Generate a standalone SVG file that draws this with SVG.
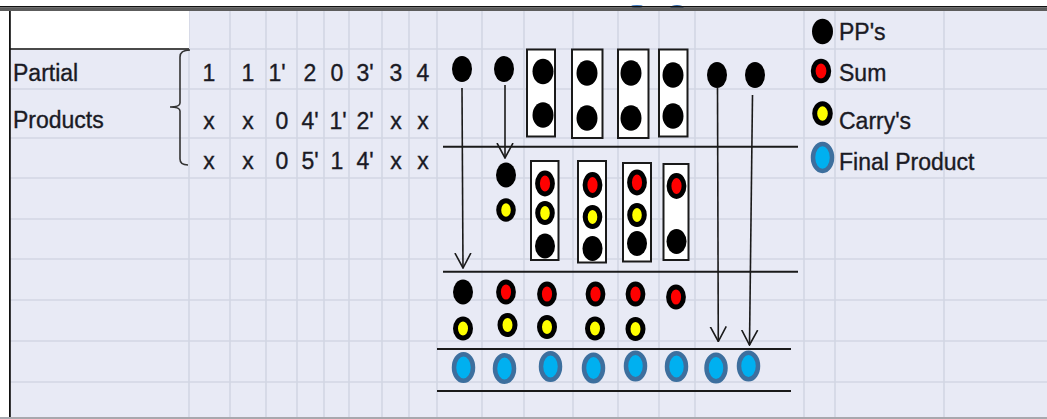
<svg xmlns="http://www.w3.org/2000/svg" width="1047" height="419" viewBox="0 0 1047 419">
  <defs>
    <style>
      .bg { fill: #e8eaf5; }
      .grid { stroke: #d2d6e4; stroke-width: 1.6; fill: none; }
      .txt { font-family: "Liberation Sans", Arial, sans-serif; font-size: 23px; fill: #1a1a24; stroke: #1a1a24; stroke-width: 0.35; }
      .num { text-anchor: middle; }
      .pp { fill: #000; }
      .sum { fill: #ff0000; stroke: #000; stroke-width: 4.8; }
      .carry { fill: #ffff00; stroke: #000; stroke-width: 5; }
      .fin { fill: #00b0f0; stroke: #3d6f9e; stroke-width: 4.5; }
      .box { fill: #fff; stroke: #1a1a1a; stroke-width: 2; }
      .rule { stroke: #1a1a1a; stroke-width: 2; fill: none; }
      .arrow { stroke: #1a1a1a; stroke-width: 1.6; fill: none; marker-end: url(#vhead); }
    </style>
    <marker id="vhead" viewBox="0 0 16 18" refX="15" refY="9" markerWidth="16" markerHeight="18" markerUnits="userSpaceOnUse" orient="auto">
      <path d="M0,1 L15,9 L0,17" fill="none" stroke="#1a1a1a" stroke-width="1.6"/>
    </marker>
  </defs>

  <!-- sheet background -->
  <rect x="0" y="0" width="1047" height="419" fill="#ffffff"/>
  <rect class="bg" x="10" y="11" width="1037" height="407"/>

  <!-- cell grid -->
  <g id="grid" class="grid">
    <path d="M189,11V418 M230,11V418 M266,11V418 M297,11V418 M324,11V418 M349,11V418 M382,11V418 M409,11V418 M437,11V418 M482,11V418 M524,11V418 M573,11V418 M618,11V418 M659,11V418 M695,11V418 M804,11V418 M835,11V418 M944,11V418"/>
    <path d="M189,49H1047 M10,89H1047 M10,138H1047 M10,178H1047 M10,219H1047 M10,259H1047 M10,300H1047 M10,341H1047 M10,382H1047"/>
  </g>

  <!-- title cell -->
  <rect x="10" y="11" width="179" height="38" fill="#ffffff"/>
  <path d="M10,49H189" stroke="#4a4a4a" stroke-width="1.8"/>

  <!-- frame -->
  <ellipse cx="637" cy="6.5" rx="6" ry="1.6" fill="#3a78c0"/>
  <ellipse cx="677" cy="7.5" rx="6.5" ry="2.4" fill="#2f66a8"/>
  <rect x="0" y="6" width="1047" height="1.5" fill="#111"/>
  <rect x="0" y="7.5" width="1047" height="3.5" fill="#5c5c5c"/>
  <rect x="9" y="11" width="1.8" height="407" fill="#111"/>
  <rect x="0" y="417" width="1047" height="2" fill="#a8a8ae"/>

  <!-- row labels -->
  <g id="label-partial-products">
    <text class="txt" x="13" y="81">Partial</text>
    <text class="txt" x="13" y="128">Products</text>
    <path d="M190,50 Q180,50 180,57 L180,103 Q180,107 170,107 Q180,107 180,111 L180,159 Q180,165 188,165" fill="none" stroke="#333" stroke-width="1.6"/>
  </g>

  <!-- partial product digits -->
  <g id="pp-table" class="txt num">
    <text x="209" y="81">1</text>
    <text x="248" y="81">1</text>
    <text x="277" y="81">1'</text>
    <text x="310" y="81">2</text>
    <text x="337" y="81">0</text>
    <text x="365" y="81">3'</text>
    <text x="396" y="81">3</text>
    <text x="423" y="81">4</text>

    <text x="209" y="128.5">x</text>
    <text x="248" y="128.5">x</text>
    <text x="282" y="128.5">0</text>
    <text x="310" y="128.5">4'</text>
    <text x="338" y="128.5">1'</text>
    <text x="365" y="128.5">2'</text>
    <text x="396" y="128.5">x</text>
    <text x="423" y="128.5">x</text>

    <text x="209" y="169">x</text>
    <text x="248" y="169">x</text>
    <text x="282" y="169">0</text>
    <text x="310" y="169">5'</text>
    <text x="337" y="169">1</text>
    <text x="365" y="169">4'</text>
    <text x="396" y="169">x</text>
    <text x="423" y="169">x</text>
  </g>

  <!-- stage separators -->
  <g id="separators" class="rule">
    <path d="M443,146.7H798"/>
    <path d="M443,271.7H798"/>
    <path d="M437,349H791"/>
    <path d="M437,391H791"/>
  </g>

  <!-- stage 1: partial product bits -->
  <g id="stage1-bit-a"><ellipse class="pp" cx="462" cy="69" rx="10" ry="13"/></g>
  <g id="stage1-bit-b"><ellipse class="pp" cx="504" cy="69" rx="10" ry="13"/></g>
  <g id="stage1-group-1">
    <rect class="box" x="527" y="49.5" width="28" height="87"/>
    <ellipse class="pp" cx="543" cy="71.5" rx="10.5" ry="12.8"/>
    <ellipse class="pp" cx="543" cy="115" rx="10.5" ry="12.8"/>
  </g>
  <g id="stage1-group-2">
    <rect class="box" x="572" y="49.5" width="30.5" height="88.5"/>
    <ellipse class="pp" cx="587" cy="73" rx="10.5" ry="12.8"/>
    <ellipse class="pp" cx="587" cy="118" rx="10.5" ry="12.8"/>
  </g>
  <g id="stage1-group-3">
    <rect class="box" x="618" y="49.5" width="30.5" height="88.5"/>
    <ellipse class="pp" cx="631" cy="73" rx="10.5" ry="12.8"/>
    <ellipse class="pp" cx="631" cy="118" rx="10.5" ry="12.8"/>
  </g>
  <g id="stage1-group-4">
    <rect class="box" x="659" y="49.5" width="28.5" height="87"/>
    <ellipse class="pp" cx="673" cy="75" rx="10.5" ry="12.8"/>
    <ellipse class="pp" cx="673" cy="116" rx="10.5" ry="12.8"/>
  </g>
  <g id="stage1-bit-c"><ellipse class="pp" cx="717" cy="75" rx="10" ry="13"/></g>
  <g id="stage1-bit-d"><ellipse class="pp" cx="755" cy="75" rx="10" ry="13"/></g>

  <!-- stage 2 -->
  <g id="stage2-col-b">
    <ellipse class="pp" cx="506" cy="175" rx="10" ry="12.5"/>
    <ellipse class="carry" cx="506" cy="210" rx="7.3" ry="9.3"/>
  </g>
  <g id="stage2-group-1">
    <rect class="box" x="531" y="161" width="27.5" height="99"/>
    <ellipse class="sum" cx="545" cy="183.5" rx="7.5" ry="10.5"/>
    <ellipse class="carry" cx="545" cy="213" rx="7.3" ry="9.5"/>
    <ellipse class="pp" cx="545" cy="246" rx="10" ry="12.5"/>
  </g>
  <g id="stage2-group-2">
    <rect class="box" x="578" y="161" width="28" height="101.5"/>
    <ellipse class="sum" cx="592.5" cy="185" rx="7.5" ry="10.5"/>
    <ellipse class="carry" cx="592.5" cy="217" rx="7.3" ry="9.5"/>
    <ellipse class="pp" cx="592.5" cy="248.5" rx="10" ry="12.5"/>
  </g>
  <g id="stage2-group-3">
    <rect class="box" x="623" y="163" width="28" height="98.5"/>
    <ellipse class="sum" cx="637" cy="182.5" rx="7.5" ry="10.5"/>
    <ellipse class="carry" cx="637" cy="215" rx="7.3" ry="9.5"/>
    <ellipse class="pp" cx="637" cy="243.5" rx="10" ry="12.5"/>
  </g>
  <g id="stage2-group-4">
    <rect class="box" x="663.5" y="164" width="25" height="96"/>
    <ellipse class="sum" cx="676.5" cy="186" rx="7.5" ry="10.5"/>
    <ellipse class="pp" cx="676.5" cy="241.5" rx="10" ry="12.5"/>
  </g>

  <!-- stage 3 -->
  <g id="stage3-col-1">
    <ellipse class="pp" cx="463" cy="292" rx="10" ry="12.5"/>
    <ellipse class="carry" cx="463" cy="328.5" rx="7.5" ry="9.5"/>
  </g>
  <g id="stage3-col-2">
    <ellipse class="sum" cx="506" cy="292" rx="7.5" ry="10"/>
    <ellipse class="carry" cx="507.5" cy="325" rx="7.5" ry="9.5"/>
  </g>
  <g id="stage3-col-3">
    <ellipse class="sum" cx="547" cy="294" rx="7.5" ry="10"/>
    <ellipse class="carry" cx="547" cy="327" rx="7.5" ry="9.5"/>
  </g>
  <g id="stage3-col-4">
    <ellipse class="sum" cx="595.5" cy="294" rx="7.5" ry="10"/>
    <ellipse class="carry" cx="595" cy="328.5" rx="7.5" ry="9.5"/>
  </g>
  <g id="stage3-col-5">
    <ellipse class="sum" cx="635.5" cy="294" rx="7.5" ry="10"/>
    <ellipse class="carry" cx="635.5" cy="329" rx="7.5" ry="9.5"/>
  </g>
  <g id="stage3-col-6">
    <ellipse class="sum" cx="676" cy="297" rx="7.5" ry="10"/>
  </g>

  <!-- final product bits -->
  <g id="final-product">
    <ellipse class="fin" cx="463.5" cy="367.5" rx="9.5" ry="13.3"/>
    <ellipse class="fin" cx="504.5" cy="368.5" rx="9.5" ry="13.3"/>
    <ellipse class="fin" cx="550.5" cy="366.5" rx="9.5" ry="13.3"/>
    <ellipse class="fin" cx="593.5" cy="368" rx="9.5" ry="13.3"/>
    <ellipse class="fin" cx="635.5" cy="366" rx="9.5" ry="13.3"/>
    <ellipse class="fin" cx="676.5" cy="366.5" rx="9.5" ry="13.3"/>
    <ellipse class="fin" cx="716" cy="368" rx="9.5" ry="13.3"/>
    <ellipse class="fin" cx="748.5" cy="366" rx="9.5" ry="13.3"/>
  </g>

  <!-- pass-through connectors -->
  <g id="connectors">
    <path class="arrow" d="M462,88 L463,268"/>
    <path class="arrow" d="M505,85 L505,158"/>
    <path class="arrow" d="M717.5,88 L718.3,341.5"/>
    <path class="arrow" d="M752.5,95 L749.5,345"/>
  </g>

  <!-- legend -->
  <g id="legend-pp">
    <ellipse class="pp" cx="822.5" cy="31.5" rx="10.5" ry="12.8"/>
    <text class="txt" x="839" y="40">PP's</text>
  </g>
  <g id="legend-sum">
    <ellipse class="sum" cx="821" cy="71" rx="7.8" ry="9.8"/>
    <text class="txt" x="839" y="81">Sum</text>
  </g>
  <g id="legend-carry">
    <ellipse class="carry" cx="822.5" cy="113.5" rx="7.8" ry="9.8"/>
    <text class="txt" x="839" y="128.5">Carry's</text>
  </g>
  <g id="legend-final">
    <ellipse class="fin" cx="822.5" cy="157.5" rx="9.5" ry="13.5"/>
    <text class="txt" x="839" y="170">Final Product</text>
  </g>
</svg>
